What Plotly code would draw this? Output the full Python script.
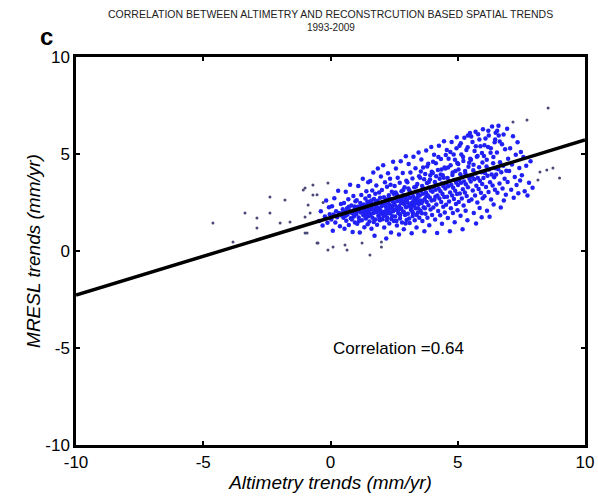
import plotly.graph_objects as go

# sparse points away from the main cloud (x = altimetry trend, y = MRESL trend)
outlier_x = [-4.62, -3.83, -3.36, -2.89, -2.89, -2.38, -1.79, -2.38, -1.98, -1.59, -1.0, -0.69,
             -0.92, -0.53, -0.1, 0.65, -1.07, -0.69, -0.1, -0.53, -0.29, -0.88, -0.8, -1.0,
             -1.0, -0.49, 0.1, 0.57, 1.24, 1.55, 2.0, 2.0, 8.55, 7.72, 7.17, 8.5, 8.74, 9.0,
             8.23, 8.15]
outlier_y = [1.44, 0.46, 1.96, 1.70, 1.19, 2.78, 2.63, 1.96, 1.44, 1.49, 3.25, 2.89,
             0.93, 0.41, 0.05, 0.05, 3.14, 3.4, 3.5, 2.9, 2.5, 2.37, 1.96, 1.75,
             0.93, 0.41, 0.21, 0.31, 0.41, -0.21, 0.46, 0.2, 7.37, 6.75, 6.65, 4.18, 4.28, 3.76,
             4.07, 3.66]

# main cloud, listed in vertical strips of 0.5 mm/yr
strip_a = [(-0.45, 1.55), (-0.38, 2.05), (-0.31, 1.32), (-0.22, 1.78), (-0.17, 2.6), (-0.12, 1.45),
           (-0.06, 2.25), (-0.03, 1.9)]
strip_b = [(0.03, 1.62), (0.06, 2.31), (0.09, 1.05), (0.12, 1.88), (0.15, 2.72), (0.19, 1.47), (0.22, 2.05),
           (0.26, 1.74), (0.3, 3.1), (0.33, 1.96), (0.37, 1.28), (0.41, 2.42), (0.44, 1.83), (0.48, 2.15)]
strip_c = [(0.51, 1.72), (0.53, 2.48), (0.55, 1.15), (0.58, 2.02), (0.6, 3.05), (0.62, 1.56), (0.65, 2.21),
           (0.67, 1.88), (0.7, 2.67), (0.72, 1.34), (0.75, 2.09), (0.77, 3.42), (0.8, 1.69), (0.82, 2.35),
           (0.85, 1.95), (0.87, 0.98), (0.9, 2.83), (0.92, 1.78), (0.94, 2.14), (0.96, 1.47), (0.98, 2.56),
           (0.99, 2.0)]
strip_d = [(1.01, 1.9), (1.03, 2.62), (1.05, 1.41), (1.07, 2.28), (1.09, 3.35), (1.11, 1.73), (1.13, 2.05),
           (1.15, 0.95), (1.17, 2.47), (1.19, 1.98), (1.21, 2.89), (1.23, 1.58), (1.25, 2.21), (1.27, 3.72),
           (1.29, 1.84), (1.31, 2.4), (1.33, 1.22), (1.35, 2.12), (1.37, 2.71), (1.39, 1.67), (1.41, 3.08),
           (1.42, 2.33), (1.44, 1.95), (1.45, 2.55), (1.46, 1.38), (1.47, 2.18), (1.48, 3.55), (1.49, 1.79),
           (1.43, 2.02), (1.36, 1.88)]
strip_e = [(1.5, 2.1), (1.52, 2.84), (1.53, 1.52), (1.55, 2.36), (1.56, 3.61), (1.58, 1.86), (1.59, 2.52),
           (1.61, 1.15), (1.62, 2.27), (1.64, 3.12), (1.65, 1.71), (1.67, 2.41), (1.68, 4.05), (1.7, 1.96),
           (1.71, 2.68), (1.73, 0.78), (1.74, 2.15), (1.76, 2.95), (1.77, 1.62), (1.79, 2.33), (1.8, 3.38),
           (1.82, 2.01), (1.83, 1.35), (1.85, 2.59), (1.86, 4.25), (1.88, 1.82), (1.89, 2.46), (1.91, 3.02),
           (1.92, 2.19), (1.94, 1.58), (1.95, 2.74), (1.97, 2.07), (1.98, 3.84), (1.99, 1.92), (1.6, 2.6),
           (1.84, 2.24)]
strip_f = [(2.01, 2.31), (2.02, 3.15), (2.04, 1.64), (2.05, 2.52), (2.07, 4.42), (2.08, 1.98), (2.1, 2.77),
           (2.11, 1.21), (2.13, 2.43), (2.14, 3.55), (2.16, 1.85), (2.17, 2.62), (2.19, 0.64), (2.2, 2.16),
           (2.22, 3.31), (2.23, 1.72), (2.25, 2.49), (2.26, 4.01), (2.28, 2.05), (2.29, 2.88), (2.31, 1.42),
           (2.32, 2.37), (2.34, 3.72), (2.35, 1.93), (2.37, 2.68), (2.38, 0.95), (2.4, 2.24), (2.41, 3.06),
           (2.43, 1.79), (2.44, 2.56), (2.46, 4.6), (2.47, 2.11), (2.48, 2.95), (2.49, 1.55), (2.12, 2.02),
           (2.27, 2.71), (2.36, 3.42), (2.21, 1.58), (2.33, 2.18), (2.45, 2.35)]
strip_g = [(2.51, 2.47), (2.52, 3.35), (2.54, 1.78), (2.55, 2.7), (2.57, 4.25), (2.58, 2.12), (2.6, 2.93),
           (2.61, 1.32), (2.63, 2.58), (2.64, 3.78), (2.66, 1.96), (2.67, 2.81), (2.69, 0.85), (2.7, 2.31),
           (2.72, 3.52), (2.73, 1.68), (2.75, 2.64), (2.76, 4.62), (2.78, 2.18), (2.79, 3.08), (2.81, 1.47),
           (2.82, 2.52), (2.84, 4.02), (2.85, 2.03), (2.87, 2.88), (2.88, 1.12), (2.9, 2.4), (2.91, 3.28),
           (2.93, 1.85), (2.94, 2.74), (2.96, 4.88), (2.97, 2.26), (2.98, 3.62), (2.99, 1.6), (2.62, 2.22),
           (2.77, 2.47), (2.86, 3.14), (2.71, 1.92), (2.92, 2.56), (2.56, 3.02)]
strip_h = [(3.01, 2.66), (3.02, 3.55), (3.04, 1.92), (3.05, 2.88), (3.07, 4.48), (3.08, 2.31), (3.1, 3.12),
           (3.11, 1.44), (3.13, 2.74), (3.14, 4.05), (3.16, 2.12), (3.17, 3.0), (3.19, 0.92), (3.2, 2.49),
           (3.22, 3.74), (3.23, 1.8), (3.25, 2.82), (3.26, 4.86), (3.28, 2.36), (3.29, 3.28), (3.31, 1.58),
           (3.32, 2.68), (3.34, 4.26), (3.35, 2.2), (3.37, 3.06), (3.38, 1.21), (3.4, 2.57), (3.41, 3.46),
           (3.43, 1.98), (3.44, 2.92), (3.46, 5.08), (3.47, 2.42), (3.48, 3.85), (3.49, 1.72), (3.12, 2.38),
           (3.27, 2.62), (3.36, 3.32), (3.21, 2.05), (3.42, 2.75), (3.06, 3.22)]
strip_i = [(3.51, 2.86), (3.52, 3.78), (3.54, 2.08), (3.55, 3.1), (3.57, 4.72), (3.58, 2.47), (3.6, 3.35),
           (3.61, 1.55), (3.63, 2.95), (3.64, 4.3), (3.66, 2.25), (3.67, 3.22), (3.69, 1.02), (3.7, 2.68),
           (3.72, 3.97), (3.73, 1.92), (3.75, 3.02), (3.76, 5.18), (3.78, 2.53), (3.79, 3.5), (3.81, 1.71),
           (3.82, 2.88), (3.84, 4.5), (3.85, 2.36), (3.87, 3.27), (3.88, 1.33), (3.9, 2.76), (3.91, 3.68),
           (3.93, 2.14), (3.94, 3.12), (3.96, 5.36), (3.97, 2.6), (3.98, 4.08), (3.99, 1.86), (3.62, 2.58),
           (3.77, 2.82), (3.86, 3.56), (3.71, 2.2)]
strip_j = [(4.01, 3.05), (4.02, 4.02), (4.04, 2.24), (4.05, 3.3), (4.07, 4.96), (4.08, 2.64), (4.1, 3.56),
           (4.11, 1.62), (4.13, 3.16), (4.14, 4.52), (4.16, 2.4), (4.17, 3.42), (4.19, 0.93), (4.2, 2.86),
           (4.22, 4.18), (4.23, 2.06), (4.25, 3.22), (4.26, 5.42), (4.28, 2.7), (4.29, 3.72), (4.31, 1.84),
           (4.32, 3.08), (4.34, 4.74), (4.35, 2.52), (4.37, 3.48), (4.38, 1.4), (4.4, 2.94), (4.41, 3.9),
           (4.43, 2.28), (4.44, 3.34), (4.46, 5.66), (4.47, 2.78), (4.48, 4.3), (4.49, 1.98), (4.12, 2.8),
           (4.33, 3.94)]
strip_k = [(4.51, 3.22), (4.52, 4.25), (4.54, 2.38), (4.55, 3.48), (4.57, 5.2), (4.58, 2.8), (4.6, 3.76),
           (4.61, 1.7), (4.63, 3.34), (4.64, 4.76), (4.66, 2.55), (4.67, 3.6), (4.69, 1.02), (4.7, 3.02),
           (4.72, 4.42), (4.73, 2.2), (4.75, 3.4), (4.76, 5.62), (4.78, 2.86), (4.79, 3.92), (4.81, 1.96),
           (4.82, 3.26), (4.84, 4.98), (4.85, 2.68), (4.87, 3.66), (4.88, 1.48), (4.9, 3.1), (4.91, 4.12),
           (4.93, 2.42), (4.94, 3.52), (4.96, 5.86), (4.97, 2.94), (4.98, 4.54), (4.99, 2.1)]
strip_l = [(5.01, 3.4), (5.02, 4.48), (5.04, 2.52), (5.05, 3.66), (5.07, 5.42), (5.08, 2.96), (5.1, 3.96),
           (5.11, 1.82), (5.13, 3.52), (5.14, 4.98), (5.16, 2.7), (5.17, 3.8), (5.19, 1.12), (5.2, 3.18),
           (5.22, 4.64), (5.23, 2.34), (5.25, 3.58), (5.26, 5.84), (5.28, 3.02), (5.29, 4.12), (5.31, 2.08),
           (5.32, 3.44), (5.34, 5.2), (5.35, 2.84), (5.37, 3.86), (5.38, 1.58), (5.4, 3.28), (5.42, 4.34),
           (5.44, 2.58), (5.46, 3.72), (5.48, 6.08), (5.49, 4.76)]
strip_m = [(5.51, 3.58), (5.52, 4.7), (5.54, 2.66), (5.56, 3.84), (5.58, 5.62), (5.59, 3.12), (5.61, 4.16),
           (5.63, 1.96), (5.65, 3.7), (5.66, 5.16), (5.68, 2.86), (5.7, 4.0), (5.72, 1.42), (5.73, 3.36),
           (5.75, 4.86), (5.77, 2.5), (5.79, 3.76), (5.8, 6.02), (5.82, 3.2), (5.84, 4.32), (5.86, 2.22),
           (5.87, 3.62), (5.89, 5.4), (5.91, 3.0), (5.93, 4.06), (5.94, 1.74), (5.96, 3.46), (5.97, 4.56),
           (5.98, 2.72), (5.99, 6.28)]
strip_n = [(6.01, 3.76), (6.03, 4.9), (6.05, 2.82), (6.07, 4.02), (6.09, 5.8), (6.11, 3.3), (6.13, 4.36),
           (6.15, 2.08), (6.17, 3.88), (6.19, 5.36), (6.21, 3.04), (6.23, 4.2), (6.25, 1.76), (6.27, 3.54),
           (6.29, 5.06), (6.31, 2.66), (6.33, 3.94), (6.35, 6.42), (6.37, 3.38), (6.39, 4.52), (6.41, 2.4),
           (6.43, 3.8), (6.45, 5.6), (6.46, 3.16), (6.48, 4.26), (6.49, 6.1)]
strip_o = [(6.51, 3.94), (6.54, 5.08), (6.56, 3.0), (6.59, 4.22), (6.61, 5.96), (6.64, 3.48), (6.66, 4.58),
           (6.69, 2.24), (6.71, 4.06), (6.74, 5.5), (6.76, 3.22), (6.79, 4.4), (6.81, 2.6), (6.84, 3.72),
           (6.86, 5.24), (6.89, 2.9), (6.91, 4.14), (6.94, 6.3), (6.96, 3.56), (6.98, 4.76)]
strip_p = [(7.02, 4.12), (7.06, 5.3), (7.1, 3.16), (7.13, 4.46), (7.17, 5.92), (7.2, 2.74), (7.24, 3.82),
           (7.28, 4.96), (7.31, 3.4), (7.35, 5.6), (7.38, 2.98), (7.42, 4.28), (7.45, 3.64), (7.48, 5.1)]
strip_q = [(7.52, 3.9), (7.58, 4.84), (7.63, 3.08), (7.69, 4.4), (7.74, 2.86), (7.8, 3.52), (7.86, 4.62),
           (7.94, 3.26)]
# denser parts: just under the line at small trends, above it at large trends
core_low = [(0.45, 1.95), (0.6, 1.82), (0.72, 2.28), (0.84, 1.62), (0.95, 2.3), (1.05, 2.12), (1.12, 1.55),
            (1.2, 2.35), (1.28, 2.0), (1.38, 1.72), (1.46, 2.4), (1.55, 1.95), (1.63, 2.15), (1.7, 1.5),
            (1.78, 2.55), (1.87, 2.05), (1.93, 1.7), (2.03, 2.4), (2.09, 1.8), (2.18, 2.3), (2.24, 1.95),
            (2.3, 2.6), (2.39, 1.65), (2.46, 2.05), (2.53, 2.35), (2.59, 1.55), (2.68, 2.15), (2.74, 1.85),
            (2.8, 2.7), (2.89, 2.0), (2.95, 1.42), (3.03, 2.5), (3.09, 1.68), (3.18, 2.25), (3.24, 1.95),
            (3.33, 2.45), (3.39, 1.85), (3.45, 2.2), (3.53, 2.6), (3.59, 1.95)]
core_high = [(3.55, 4.1), (3.68, 3.7), (3.8, 4.35), (3.92, 3.9), (4.03, 4.6), (4.15, 3.85), (4.24, 4.85),
             (4.36, 4.2), (4.45, 3.78), (4.53, 4.95), (4.62, 4.3), (4.71, 5.1), (4.8, 4.05), (4.89, 4.7),
             (4.95, 5.3), (5.03, 4.2), (5.12, 5.55), (5.21, 4.85), (5.3, 4.0), (5.39, 5.35), (5.45, 4.55),
             (5.53, 5.9), (5.62, 4.45), (5.71, 5.4), (5.78, 4.9), (5.85, 5.75), (5.95, 5.05), (6.05, 5.45),
             (6.14, 4.7), (6.22, 5.95), (6.3, 5.3), (6.4, 4.85), (6.47, 5.75), (6.2, 6.2), (5.7, 6.15),
             (6.55, 6.2), (6.65, 5.65), (6.8, 6.0), (6.6, 6.45), (5.4, 5.95)]

# regression line end points
fit_x = [-10, 10]
fit_y = [-2.27, 5.72]
corr_text = "Correlation =0.64"
tick_vals = [-10, -5, 0, 5, 10]
tick_text = ["-10", "-5", "0", "5", "10"]

cloud = (strip_a + strip_b + strip_c + strip_d + strip_e + strip_f + strip_g + strip_h + strip_i
         + strip_j + strip_k + strip_l + strip_m + strip_n + strip_o + strip_p + strip_q
         + core_low + core_high)
cloud_x = [p[0] for p in cloud]
cloud_y = [p[1] for p in cloud]

fig = go.Figure()
fig.add_trace(go.Scatter(x=outlier_x, y=outlier_y, mode="markers",
                         marker=dict(size=3, color="#4a4a7a")))
fig.add_trace(go.Scatter(x=cloud_x, y=cloud_y, mode="markers",
                         marker=dict(size=4.5, color="#2020f5")))
fig.add_trace(go.Scatter(x=fit_x, y=fit_y, mode="lines",
                         line=dict(color="black", width=3.5)))

fig.add_annotation(x=0, y=-5, xref="x", yref="y", text=corr_text, showarrow=False,
                   xanchor="left", font=dict(size=17, color="black"))
fig.add_annotation(x=0.5, y=1.111, xref="paper", yref="paper", showarrow=False, yanchor="middle",
                   text="CORRELATION BETWEEN ALTIMETRY AND RECONSTRCUTION BASED SPATIAL TRENDS",
                   font=dict(size=10.5, color="#222"))
fig.add_annotation(x=0.5, y=1.075, xref="paper", yref="paper", showarrow=False, yanchor="middle",
                   text="1993-2009", font=dict(size=10, color="#222"))
fig.add_annotation(x=-0.075, y=1.052, xref="paper", yref="paper", showarrow=False, yanchor="middle",
                   text="<b>c</b>", font=dict(size=24, color="black"))

axis_style = dict(range=[-10, 10], tickvals=tick_vals, ticktext=tick_text,
                  showgrid=False, zeroline=False, automargin=False,
                  showline=True, mirror="ticks", linecolor="black", linewidth=2.5,
                  ticks="inside", ticklen=4, tickwidth=2, tickcolor="black",
                  tickfont=dict(size=17, color="black"))
fig.update_xaxes(**axis_style, title=dict(text="<i>Altimetry trends (mm/yr)</i>",
                                          font=dict(size=19), standoff=5))
fig.update_yaxes(**axis_style, title=dict(text="<i>MRESL trends (mm/yr)</i>",
                                          font=dict(size=19), standoff=0))

fig.update_layout(width=598, height=500, showlegend=False,
                  margin=dict(l=76, r=13, t=57, b=55),
                  paper_bgcolor="white", plot_bgcolor="white",
                  font=dict(family="Liberation Sans, Arial, sans-serif", color="black"))
fig.write_html("out.html", config={"displayModeBar": False},
               post_script="document.body.style.margin='0';")
